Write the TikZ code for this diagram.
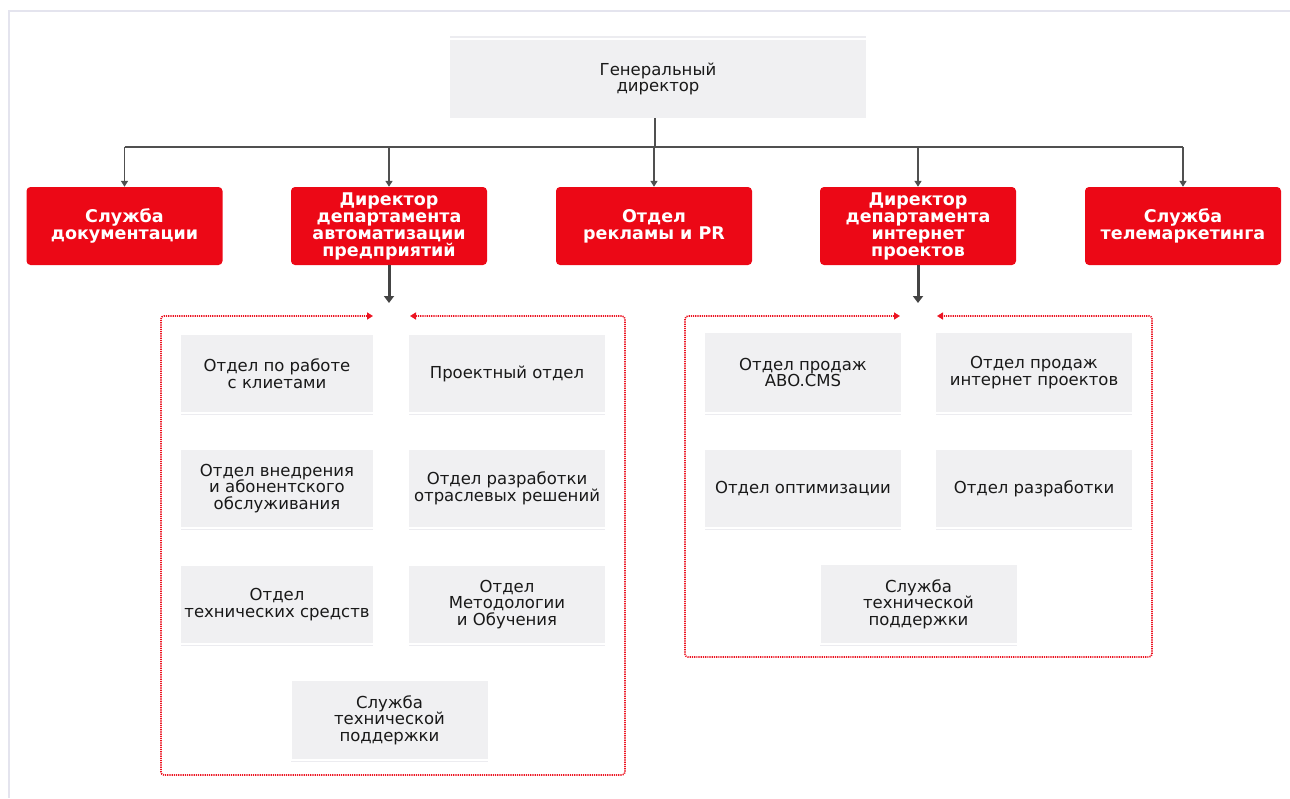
\documentclass[tikz,border=0pt]{standalone}
\usepackage{fontspec}
\setmainfont{DejaVu Sans}
\usetikzlibrary{arrows.meta}
\definecolor{redbox}{RGB}{236,8,22}
\definecolor{graybox}{RGB}{240,240,242}
\definecolor{frameg}{RGB}{228,228,238}
\definecolor{lineg}{RGB}{236,236,240}
\definecolor{conng}{RGB}{80,80,80}
\definecolor{darkarr}{RGB}{68,68,68}
\definecolor{dotred}{RGB}{236,20,34}
\definecolor{txt}{RGB}{25,25,25}
\begin{document}
\begin{tikzpicture}[x=1pt,y=-1pt,
  redn/.style={fill=redbox, rounded corners=4pt, minimum width=196pt, minimum height=78pt,
    inner sep=0pt, align=center, text=white, font=\bfseries\fontsize{17.5}{17}\selectfont},
  grayn/.style={fill=graybox, minimum width=194pt, minimum height=77pt, inner sep=0pt,
    align=center, text=txt, font=\fontsize{16.5}{16.5}\selectfont},
  bus/.style={draw=conng, line width=2pt},
  drop/.style={draw=conng, line width=1.5pt, -{Triangle[length=6pt,width=7pt]}},
  thickarr/.style={draw=darkarr, line width=3pt, -{Triangle[length=7pt,width=10pt]}},
  dotframe/.style={draw=dotred, line width=1.6pt, dash pattern=on 1.2pt off 1pt,
    rounded corners=3pt, {Triangle[length=6pt,width=7pt]}-{Triangle[length=6pt,width=7pt]}},
  underline/.style={draw=lineg, line width=1.5pt}
]
\useasboundingbox (0,0) rectangle (1290,798);
% outer frame
\draw[frameg, line width=2pt] (9,798) -- (9,11) -- (1290,11);

% top box
\node[grayn, minimum width=416pt, minimum height=78pt] (gd) at (658,79) {Генеральный\\директор};
\draw[underline] ([yshift=3pt]gd.north west) -- ([yshift=3pt]gd.north east);

% red boxes
\node[redn] (c1) at (124.5,226) {Служба\\документации};
\node[redn] (c2) at (389,226) {Директор\\департамента\\автоматизации\\предприятий};
\node[redn] (c3) at (654,226) {Отдел\\рекламы и PR};
\node[redn] (c4) at (918,226) {Директор\\департамента\\интернет\\проектов};
\node[redn] (c5) at (1183,226) {Служба\\телемаркетинга};

% bus
\coordinate (bus) at (655,147);
\draw[draw=conng, line width=1.2pt] (gd.south -| bus) -- (bus);
\draw[bus] (c1.north |- bus) -- (c5.north |- bus);
\foreach \c in {c1,c2,c3,c4,c5}
  \draw[drop] (\c.north |- bus) -- (\c.north);

% left group
\node[grayn, minimum width=192pt] (a1) at (277,373.5) {Отдел по работе\\с клиетами};
\node[grayn, minimum width=196pt] (a2) at (507,373.5) {Проектный отдел};
\node[grayn, minimum width=192pt] (a3) at (277,488.5) {Отдел внедрения\\и абонентского\\обслуживания};
\node[grayn, minimum width=196pt] (a4) at (507,488.5) {Отдел разработки\\отраслевых решений};
\node[grayn, minimum width=192pt] (a5) at (277,604.5) {Отдел\\технических средств};
\node[grayn, minimum width=196pt] (a6) at (507,604.5) {Отдел\\Методологии\\и Обучения};
\node[grayn, minimum width=196pt, minimum height=78pt] (a7) at (389.5,720) {Служба\\технической\\поддержки};

% right group
\node[grayn, minimum width=196pt, minimum height=79pt] (b1) at (803,372.5) {Отдел продаж\\ABO.CMS};
\node[grayn, minimum width=196pt, minimum height=79pt] (b2) at (1034,372.5) {Отдел продаж\\интернет проектов};
\node[grayn, minimum width=196pt] (b3) at (803,488.5) {Отдел оптимизации};
\node[grayn, minimum width=196pt] (b4) at (1034,488.5) {Отдел разработки};
\node[grayn, minimum width=196pt, minimum height=78pt] (b5) at (918.5,604) {Служба\\технической\\поддержки};

\foreach \n in {a1,a2,a3,a4,a5,a6,a7,b1,b2,b3,b4,b5}
  \draw[underline] ([yshift=-2.5pt]\n.south west) -- ([yshift=-2.5pt]\n.south east);

% gaps and frames
\coordinate (lgap) at (389,303);
\coordinate (rgap) at (918,303);
\draw[thickarr] (c2.south) -- (lgap);
\draw[thickarr] (c4.south) -- (rgap);

\coordinate (l1) at (373,316);
\coordinate (l2) at (410,316);
\coordinate (r1) at (900,316);
\coordinate (r2) at (937,316);
\draw[dotframe] (l1) -- (161,316) -- (161,775) -- (625,775) -- (625,316) -- (l2);
\draw[dotframe] (r1) -- (685,316) -- (685,657) -- (1152,657) -- (1152,316) -- (r2);
\end{tikzpicture}
\end{document}
